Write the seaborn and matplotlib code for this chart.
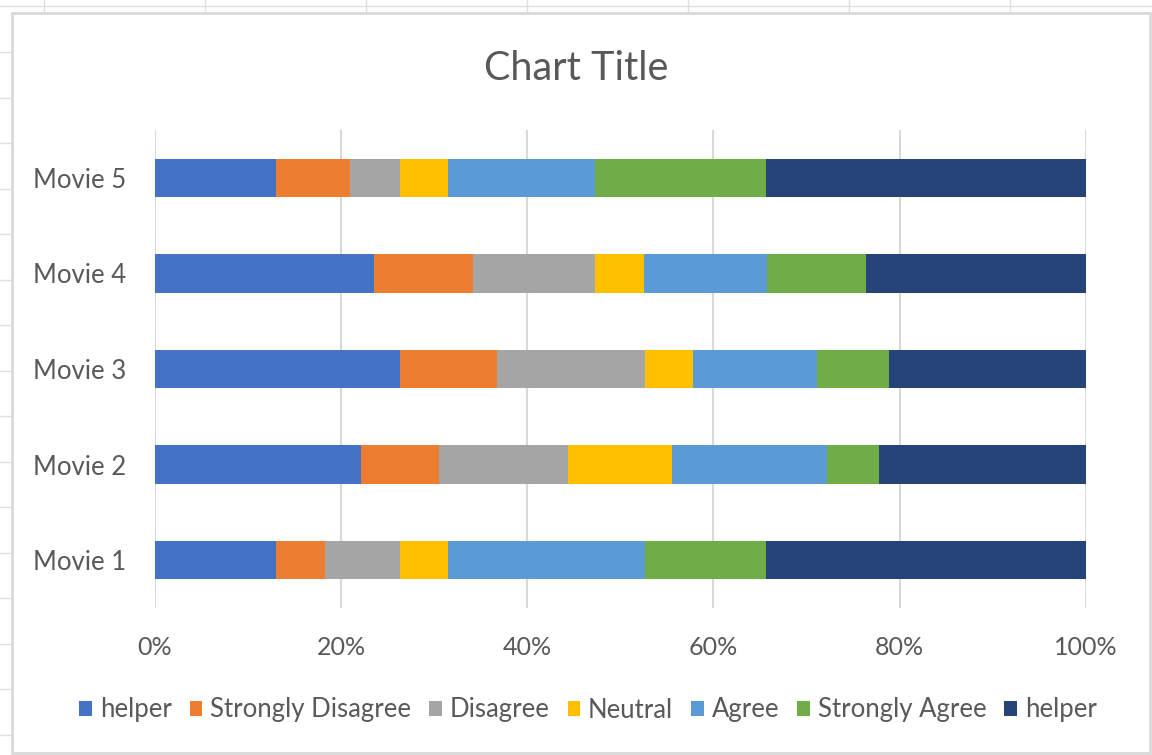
import numpy as np
import pandas as pd
import matplotlib
matplotlib.use("Agg")
import matplotlib.pyplot as plt
from matplotlib.patches import Patch, Rectangle
from matplotlib.lines import Line2D
import seaborn as sns

movies = ["Movie 5", "Movie 4", "Movie 3", "Movie 2", "Movie 1"]
series = ["helper", "Strongly Disagree", "Disagree", "Neutral", "Agree", "Strongly Agree", "helper"]
helper_left = [13.0, 23.6, 26.3, 22.1, 13.0]
strongly_disagree = [8.0, 10.6, 10.5, 8.4, 5.3]
disagree = [5.3, 13.2, 15.8, 13.9, 8.0]
neutral = [5.2, 5.3, 5.2, 11.1, 5.2]
agree = [15.8, 13.2, 13.3, 16.7, 21.1]
strongly_agree = [18.4, 10.6, 7.8, 5.6, 13.1]
helper_right = [34.3, 23.7, 21.1, 22.2, 34.3]
colors = ["#4472C4", "#ED7D31", "#A5A5A5", "#FFC000", "#5B9BD5", "#70AD47", "#264478"]
xticks = [0, 20, 40, 60, 80, 100]
xticklabels = ["0%", "20%", "40%", "60%", "80%", "100%"]

sns.set_theme(style="white")
plt.rcParams['font.family'] = ['Lato', 'DejaVu Sans']
txt = "#595959"

vals = np.array([helper_left, strongly_disagree, disagree, neutral, agree,
                 strongly_agree, helper_right], dtype=float)
totals = vals.sum(axis=0)
pct = vals / totals * 100
cum = np.cumsum(pct, axis=0)

fig = plt.figure(figsize=(11.52, 7.55), dpi=100)
ax = fig.add_axes([155/1152, 1-608/755, (1085.7-155)/1152, (608-130)/755])

for i in range(len(series) - 1, -1, -1):
    df = pd.DataFrame({"movie": movies, "value": cum[i]})
    sns.barplot(data=df, x="value", y="movie", order=movies, color=colors[i],
                saturation=1, width=0.4, ax=ax, linewidth=0)

ax.set_xlim(0, 100)
ax.set_ylim(4.5, -0.5)
ax.set_xticks(xticks)
ax.set_xticklabels(xticklabels)
ax.xaxis.grid(True, color="#D9D9D9", linewidth=1.5)
ax.set_axisbelow(True)
for s in ax.spines.values():
    s.set_visible(False)
ax.set_xlabel("")
ax.set_ylabel("")
ax.tick_params(axis="x", length=0, pad=20, labelsize=18, labelcolor=txt)
ax.tick_params(axis="y", length=0, pad=21, labelsize=18.5, labelcolor=txt)

fig.text(0.5, 1-68/755, "Chart Title", ha="center", va="center", fontsize=28.5, color=txt)

handles = [Patch(facecolor=c, edgecolor="none") for c in colors]
fig.legend(handles, series, loc="center", bbox_to_anchor=(588/1152, 1-710/755), ncol=7,
           frameon=False, fontsize=18.5, labelcolor=txt, handlelength=0.5, handleheight=0.5,
           handletextpad=0.3, columnspacing=0.7)

# chart area border and surrounding sheet grid
fig.add_artist(Rectangle((12/1152, 1-753/755), (1150-12)/1152, (753-13)/755,
                         transform=fig.transFigure, fill=False, edgecolor="#D9D9D9", linewidth=2))
for xv in [44, 205, 366, 527, 688, 849, 1010]:
    fig.add_artist(Line2D([xv/1152, xv/1152], [1, 1-12/755], transform=fig.transFigure,
                          color="#E0E0E0", linewidth=1))
fig.add_artist(Line2D([0, 1], [1-6/755, 1-6/755], transform=fig.transFigure, color="#E0E0E0", linewidth=1))
for yv in np.arange(52, 750, 45.5):
    fig.add_artist(Line2D([0, 11/1152], [1-yv/755, 1-yv/755], transform=fig.transFigure,
                          color="#E0E0E0", linewidth=1))

fig.savefig("out.png", dpi=100)
